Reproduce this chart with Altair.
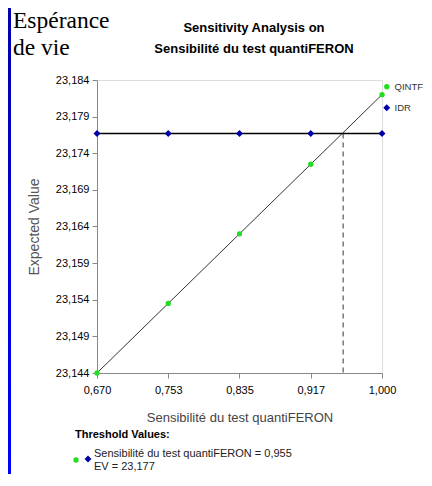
import altair as alt
import pandas as pd

# ---- data ----
series_names = ["QINTF", "IDR"]
series_colors = ["#22dd22", "#0000a8"]
series_shapes = ["circle", "diamond"]
series_sizes = [28, 48]

x_vals = [0.670, 0.7525, 0.835, 0.9175, 1.000]
qintf_vals = [23.144, 23.1535, 23.163, 23.1725, 23.182]
idr_vals = [23.1767, 23.1767, 23.1767, 23.1767, 23.1767]

x_tick_values = [0.670, 0.7525, 0.835, 0.9175, 1.000]
x_tick_labels = ["0,670", "0,753", "0,835", "0,917", "1,000"]
y_tick_values = [23.144, 23.149, 23.154, 23.159, 23.164, 23.169, 23.174, 23.179, 23.184]

threshold_x = [0.955]
threshold_ev = [23.1767]

title_line1 = ["Sensitivity Analysis on"]
title_line2 = ["Sensibilité du test quantiFERON"]
x_title = "Sensibilité du test quantiFERON"
y_title = "Expected Value"
corner_line1 = ["Espérance"]
corner_line2 = ["de vie"]
threshold_header = ["Threshold Values:"]
threshold_line1 = ["Sensibilité du test quantiFERON = 0,955"]
threshold_line2 = ["EV = 23,177"]

FONT = "Liberation Sans"

rows = []
for xv, q, d in zip(x_vals, qintf_vals, idr_vals):
    rows.append({"x": xv, "y": q, "series": "QINTF"})
    rows.append({"x": xv, "y": d, "series": "IDR"})
df = pd.DataFrame(rows)

# x label expression from the tick lists
expr = "'" + x_tick_labels[-1] + "'"
for i in range(len(x_tick_values) - 2, -1, -1):
    mid = (x_tick_values[i] + x_tick_values[i + 1]) / 2
    expr = f"datum.value < {mid} ? '{x_tick_labels[i]}' : ({expr})"

x_scale = alt.Scale(domain=[x_tick_values[0], x_tick_values[-1]], nice=False, zero=False)
y_scale = alt.Scale(domain=[y_tick_values[0], y_tick_values[-1]], nice=False, zero=False)

x_enc = alt.X("x:Q", scale=x_scale, axis=alt.Axis(
    values=x_tick_values, tickCount=len(x_tick_values) + 1, labelExpr=expr,
    title=x_title, grid=False,
    titleFontSize=13, titleFont=FONT, titleFontWeight="normal", titleColor="#444",
    titleBaseline="alphabetic", titleY=48,
    labelFontSize=11, labelPadding=6, labelFlush=False, labelOverlap=False))
y_enc = alt.Y("y:Q", scale=y_scale, axis=alt.Axis(
    values=y_tick_values, tickCount=len(y_tick_values) + 1,
    labelExpr="replace(format(datum.value, '.3f'), '.', ',')",
    title=y_title, grid=False, titleFontSize=14, titleFont=FONT,
    titleFontWeight="normal", titleColor="#555", titleBaseline="alphabetic",
    titleX=-59, titleY=146.5, titleAngle=270,
    labelFontSize=11, labelPadding=3, labelOverlap=False, labelFlush=False))

base = alt.Chart(df)

line_q = base.transform_filter(alt.datum.series == "QINTF").mark_line(
    color="#333333", strokeWidth=1).encode(x=x_enc, y=y_enc)
line_i = base.transform_filter(alt.datum.series == "IDR").mark_line(
    color="#000000", strokeWidth=1.4).encode(x="x:Q", y="y:Q")

color_scale = alt.Scale(domain=series_names, range=series_colors)
shape_scale = alt.Scale(domain=series_names, range=series_shapes)
size_scale = alt.Scale(domain=series_names, range=series_sizes)

points = base.mark_point(filled=True, opacity=1, strokeWidth=0).encode(
    x="x:Q", y="y:Q",
    color=alt.Color("series:N", scale=color_scale, title=None, sort=series_names,
                    legend=alt.Legend(orient="none", legendX=285, legendY=2,
                                      labelFont=FONT, labelFontSize=9.5,
                                      labelColor="#333", rowPadding=10,
                                      padding=0, labelOffset=3)),
    shape=alt.Shape("series:N", scale=shape_scale, title=None, sort=series_names),
    size=alt.Size("series:N", scale=size_scale, title=None, sort=series_names),
)

thr_df = pd.DataFrame({"x": threshold_x, "y": threshold_ev, "y2": [y_tick_values[0]]})
rule = alt.Chart(thr_df).mark_rule(color="#333", strokeWidth=1, strokeDash=[5, 4]).encode(
    x="x:Q", y="y:Q", y2="y2:Q")

one = pd.DataFrame({"k": [0]})
bar = alt.Chart(one).mark_rect(
    fill=alt.Gradient(gradient="linear",
                      stops=[alt.GradientStop(color="#0000b0", offset=0),
                             alt.GradientStop(color="#0000ff", offset=1)],
                      x1=0, x2=0, y1=0, y2=1)).encode(
    x=alt.value(-89), x2=alt.value(-86), y=alt.value(-72), y2=alt.value(394))


def text_layer(values, x, y, **kw):
    props = dict(font=FONT, fontSize=11, align="left", baseline="alphabetic", color="#000")
    props.update(kw)
    return alt.Chart(pd.DataFrame({"t": values})).mark_text(**props).encode(
        text="t:N", x=alt.value(x), y=alt.value(y))


corner1 = text_layer(corner_line1, -84, -52, font="Liberation Serif", fontSize=23.5)
corner2 = text_layer(corner_line2, -84, -25, font="Liberation Serif", fontSize=23.5)
title1 = text_layer(title_line1, 157, -48, fontSize=13, fontWeight="bold", align="center")
title2 = text_layer(title_line2, 157, -27, fontSize=13, fontWeight="bold", align="center")
thr_head = text_layer(threshold_header, -22, 358, fontWeight="bold")
thr_t1 = text_layer(threshold_line1, -3, 377, color="#222")
thr_t2 = text_layer(threshold_line2, -3, 390, color="#222")

sym_green = alt.Chart(one).mark_point(
    filled=True, opacity=1, strokeWidth=0, shape=series_shapes[0],
    color=series_colors[0], size=series_sizes[0]).encode(
    x=alt.value(-21), y=alt.value(380))
sym_blue = alt.Chart(one).mark_point(
    filled=True, opacity=1, strokeWidth=0, shape=series_shapes[1],
    color=series_colors[1], size=series_sizes[1]).encode(
    x=alt.value(-9), y=alt.value(379))

chart = alt.layer(
    bar, corner1, corner2, title1, title2, line_q, line_i, rule, points,
    thr_head, thr_t1, thr_t2, sym_green, sym_blue
).properties(
    width=285, height=293,
    autosize=alt.AutoSizeParams(type="none"),
    padding={"left": 89, "top": 72, "right": 42, "bottom": 101},
).configure_view(stroke="#808080", strokeWidth=1.5).configure_axis(
    labelFont=FONT, labelColor="#444", tickColor="#808080", domainColor="#808080",
    domainWidth=1.5, tickSize=5, tickWidth=1.2,
).configure(background="white")

chart.save("out.html", embed_options={"renderer": "svg", "actions": False})
